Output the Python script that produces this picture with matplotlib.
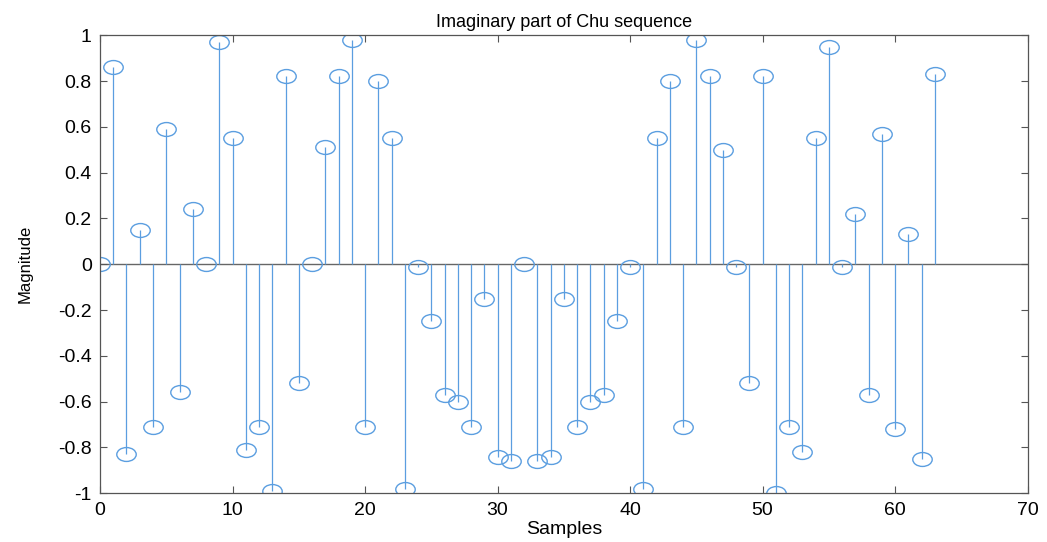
import numpy as np
import matplotlib
matplotlib.use('Agg')
import matplotlib.pyplot as plt
from matplotlib.path import Path

# sample index and imaginary part
samples = list(range(64))
imag_part = [0.0, 0.86, -0.83, 0.15, -0.71, 0.59, -0.56, 0.24,
             0.0, 0.97, 0.55, -0.81, -0.71, -0.99, 0.82, -0.52,
             0.0, 0.51, 0.82, 0.98, -0.71, 0.80, 0.55, -0.98,
             -0.01, -0.25, -0.57, -0.60, -0.71, -0.15, -0.84, -0.86,
             0.0, -0.86, -0.84, -0.15, -0.71, -0.60, -0.57, -0.25,
             -0.01, -0.98, 0.55, 0.80, -0.71, 0.98, 0.82, 0.50,
             -0.01, -0.52, 0.82, -1.0, -0.71, -0.82, 0.55, 0.95,
             -0.01, 0.22, -0.57, 0.57, -0.72, 0.13, -0.85, 0.83]

plt.rcParams['font.family'] = ['Liberation Sans', 'DejaVu Sans']

stem_col = '#5b9ee0'
axis_col = '#555555'

# the scanned figure is stretched sideways, so circles look like ellipses
circ = Path.unit_circle()
ellipse = Path(circ.vertices * np.array([1.4, 1.0]), circ.codes)

fig = plt.figure(figsize=(10.47, 5.42), dpi=100)
ax = fig.add_axes([0.0955, 0.09, 0.886, 0.845])

ax.axhline(0, color='#666666', lw=1.0, zorder=1)
markers, stems, base = ax.stem(samples, imag_part, basefmt=' ')
plt.setp(stems, color=stem_col, lw=0.9)
plt.setp(markers, marker=ellipse, markerfacecolor='none', markeredgecolor=stem_col,
         markersize=14, markeredgewidth=1.0)

ax.set_xlim(0, 70)
ax.set_ylim(-1, 1)
ax.set_xticks(np.arange(0, 71, 10))
ax.set_yticks(np.arange(-1, 1.01, 0.2))
ax.set_yticklabels(['-1', '-0.8', '-0.6', '-0.4', '-0.2', '0',
                    '0.2', '0.4', '0.6', '0.8', '1'])
ax.tick_params(direction='in', top=True, right=True, length=5,
               labelsize=14, color=axis_col, pad=6)
for s in ax.spines.values():
    s.set_color(axis_col)
    s.set_linewidth(0.9)

ax.set_title('Imaginary part of Chu sequence', fontsize=13, pad=6)
ax.set_xlabel('Samples', fontsize=14, labelpad=2)
ax.set_ylabel('Magnitude', fontsize=12, labelpad=18)

fig.savefig('out.png', dpi=100)
